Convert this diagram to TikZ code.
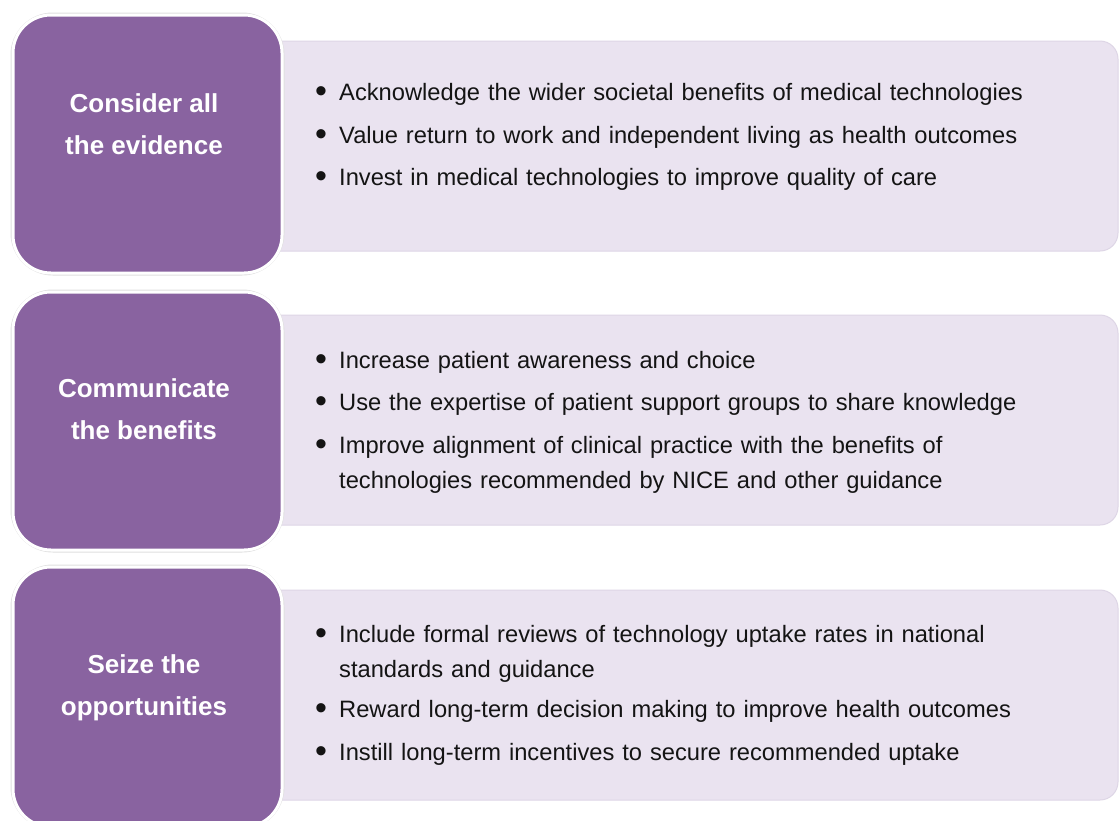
\documentclass[tikz,border=0pt]{standalone}
\usepackage{fontspec}
\setmainfont{Liberation Sans}
\definecolor{boxpurple}{RGB}{137,99,160}
\definecolor{lavender}{RGB}{234,227,240}
\definecolor{lavedge}{RGB}{222,214,230}
\definecolor{txt}{RGB}{20,20,20}
\tikzset{
  headbox/.style={fill=boxpurple, draw=white, line width=3pt, rounded corners=38pt},
  headshadow/.style={draw=black!12, line width=5pt, rounded corners=40pt},
  bodybox/.style={fill=lavender, draw=lavedge, line width=1pt, rounded corners=18pt},
  title/.style={font=\bfseries\fontsize{26}{42}\selectfont, text=white, align=center, inner sep=0pt},
  item/.style={font=\fontsize{23.7}{35}\selectfont, text=txt, anchor=base west, inner sep=0pt, text width=760pt, align=left},
  dot/.style={font=\fontsize{34}{40}\selectfont, text=txt, anchor=center, inner sep=0pt}
}
\begin{document}
\begin{tikzpicture}[x=1pt,y=-1pt]
\useasboundingbox (0,0) rectangle (1120,820);
\clip (0,0) rectangle (1120,820);
\fill[white] (0,0) rectangle (1120,820);
% body boxes
\draw[bodybox] (262,41) rectangle (1118,251);
\draw[bodybox] (262,315) rectangle (1118,525);
\draw[bodybox] (262,590) rectangle (1118,800);
% head boxes
\draw[headshadow] (13,15) rectangle (282,273);
\draw[headbox] (13,15) rectangle (282,273);
\draw[headshadow] (13,292) rectangle (282,550);
\draw[headbox] (13,292) rectangle (282,550);
\draw[headshadow] (13,567) rectangle (282,827);
\draw[headbox] (13,567) rectangle (282,827);
% titles
\node[title] (t1) at (144,124) {Consider all\\the evidence};
\node[title] (t2) at (144,409) {Communicate\\the benefits};
\node[title] (t3) at (144,688) {Seize the\\opportunities};
% items box 1
\node[dot] (d11) at (321,95) {•};
\node[item] (i11) at (339,100) {Acknowledge the wider societal benefits of medical technologies};
\node[dot] (d12) at (321,138) {•};
\node[item] (i12) at (339,143) {Value return to work and independent living as health outcomes};
\node[dot] (d13) at (321,180) {•};
\node[item] (i13) at (339,185) {Invest in medical technologies to improve quality of care};
% items box 2
\node[dot] (d21) at (321,363) {•};
\node[item] (i21) at (339,368) {Increase patient awareness and choice};
\node[dot] (d22) at (321,405) {•};
\node[item] (i22) at (339,410) {Use the expertise of patient support groups to share knowledge};
\node[dot] (d23) at (321,448) {•};
\node[item] (i23) at (339,453) {Improve alignment of clinical practice with the benefits of\\technologies recommended by NICE and other guidance};
% items box 3
\node[dot] (d31) at (321,637) {•};
\node[item] (i31) at (339,642) {Include formal reviews of technology uptake rates in national\\standards and guidance};
\node[dot] (d32) at (321,712) {•};
\node[item] (i32) at (339,717) {Reward long-term decision making to improve health outcomes};
\node[dot] (d33) at (321,755) {•};
\node[item] (i33) at (339,760) {Instill long-term incentives to secure recommended uptake};
\end{tikzpicture}
\end{document}
